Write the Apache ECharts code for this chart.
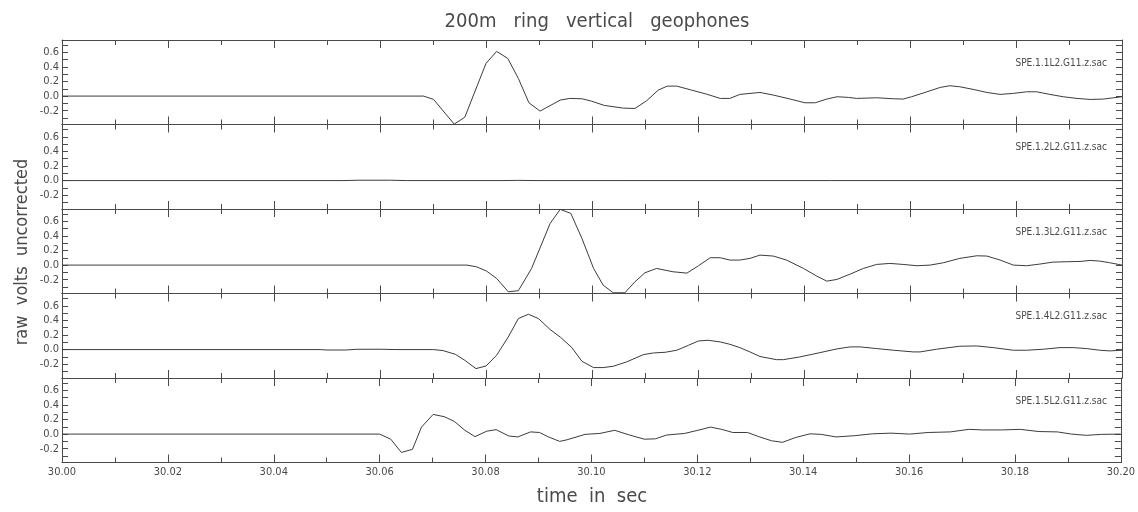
<!DOCTYPE html>
<html>
<head>
<meta charset="utf-8">
<script src="https://cdn.jsdelivr.net/npm/echarts@6/dist/echarts.min.js"></script>
<style>
  html, body { margin: 0; padding: 0; background: #fff; }
  #chart { width: 1138px; height: 512px; }
</style>
</head>
<body>
<div id="chart"></div>
<script>
// trace names, one per panel
const traceNames = ['SPE.1.1L2.G11.z.sac', 'SPE.1.2L2.G11.z.sac', 'SPE.1.3L2.G11.z.sac', 'SPE.1.4L2.G11.z.sac', 'SPE.1.5L2.G11.z.sac']

// (time in sec, raw volts)
const time1 = [30.0, 30.0682, 30.0701, 30.074, 30.076, 30.08, 30.082, 30.0841, 30.0861, 30.0881, 30.0902, 30.094, 30.0958, 30.0981, 30.0999, 30.1023, 30.1059, 30.1081, 30.1103, 30.1125, 30.1142, 30.116, 30.1188, 30.1216, 30.1242, 30.126, 30.1279, 30.1317, 30.1342, 30.1374, 30.1402, 30.1421, 30.1443, 30.1462, 30.1484, 30.1499, 30.1537, 30.1569, 30.1587, 30.1603, 30.1632, 30.1657, 30.1675, 30.1694, 30.1719, 30.1745, 30.177, 30.1795, 30.182, 30.1839, 30.1864, 30.1889, 30.1915, 30.194, 30.1965, 30.1984, 30.2]
const volts1 = [0, 0, -0.045, -0.385, -0.29, 0.449, 0.613, 0.518, 0.243, -0.092, -0.206, -0.055, -0.032, -0.037, -0.069, -0.128, -0.165, -0.17, -0.064, 0.082, 0.137, 0.137, 0.082, 0.027, -0.032, -0.032, 0.023, 0.05, 0.014, -0.041, -0.092, -0.092, -0.041, -0.009, -0.018, -0.032, -0.023, -0.037, -0.041, -0.009, 0.059, 0.119, 0.142, 0.128, 0.092, 0.05, 0.023, 0.037, 0.059, 0.059, 0.023, -0.009, -0.032, -0.046, -0.041, -0.023, -0.009]

const time2 = [30.0, 30.053, 30.056, 30.062, 30.065, 30.083, 30.086, 30.09, 30.2]
const volts2 = [0, 0, 0.005, 0.005, 0, 0, 0.003, 0, 0]

const time3 = [30.0, 30.0764, 30.0782, 30.0801, 30.082, 30.0842, 30.0861, 30.0886, 30.0921, 30.094, 30.096, 30.0981, 30.1003, 30.1021, 30.104, 30.1062, 30.1081, 30.11, 30.1122, 30.1153, 30.1179, 30.1201, 30.1223, 30.1242, 30.126, 30.1279, 30.1298, 30.1317, 30.1342, 30.1367, 30.1399, 30.1424, 30.1443, 30.1462, 30.1487, 30.1512, 30.1537, 30.1562, 30.1587, 30.1613, 30.1638, 30.1663, 30.1694, 30.1726, 30.1745, 30.177, 30.1795, 30.182, 30.1845, 30.187, 30.1896, 30.1921, 30.194, 30.1958, 30.1977, 30.2]
const volts3 = [0, 0, -0.023, -0.082, -0.183, -0.366, -0.352, -0.046, 0.572, 0.765, 0.71, 0.366, -0.046, -0.275, -0.38, -0.38, -0.229, -0.105, -0.046, -0.092, -0.11, -0.009, 0.101, 0.101, 0.069, 0.069, 0.092, 0.137, 0.124, 0.069, -0.046, -0.151, -0.22, -0.197, -0.124, -0.046, 0.009, 0.023, 0.009, -0.009, 0, 0.032, 0.092, 0.128, 0.124, 0.069, 0, -0.009, 0.014, 0.041, 0.046, 0.05, 0.064, 0.055, 0.032, 0]

const time4 = [30.0, 30.0487, 30.05, 30.0535, 30.0555, 30.06, 30.0632, 30.0701, 30.0719, 30.0742, 30.076, 30.0781, 30.08, 30.082, 30.0842, 30.0861, 30.088, 30.0899, 30.0921, 30.094, 30.0962, 30.0981, 30.1003, 30.1021, 30.104, 30.1065, 30.1097, 30.1116, 30.1138, 30.116, 30.1182, 30.1201, 30.1219, 30.1242, 30.126, 30.1279, 30.1298, 30.1317, 30.1348, 30.1361, 30.1392, 30.143, 30.1462, 30.1487, 30.1506, 30.1537, 30.1569, 30.1606, 30.1619, 30.165, 30.1694, 30.1726, 30.1757, 30.1795, 30.182, 30.1852, 30.1883, 30.1908, 30.1933, 30.1958, 30.1977, 30.2]
const volts4 = [0, 0, -0.006, -0.006, 0.004, 0.005, 0, 0, -0.014, -0.064, -0.147, -0.261, -0.225, -0.078, 0.173, 0.426, 0.485, 0.426, 0.275, 0.173, 0.027, -0.161, -0.247, -0.247, -0.229, -0.17, -0.069, -0.046, -0.037, -0.009, 0.059, 0.119, 0.128, 0.105, 0.073, 0.027, -0.032, -0.095, -0.138, -0.138, -0.101, -0.042, 0.009, 0.037, 0.037, 0.014, -0.009, -0.032, -0.032, 0.005, 0.046, 0.05, 0.027, -0.009, -0.009, 0.005, 0.027, 0.027, 0.014, -0.009, -0.018, -0.009]

const time5 = [30.0, 30.06, 30.0621, 30.0641, 30.0662, 30.0679, 30.0701, 30.0722, 30.0741, 30.0761, 30.078, 30.0802, 30.082, 30.0844, 30.0861, 30.0885, 30.0902, 30.0919, 30.094, 30.0954, 30.0988, 30.1016, 30.1044, 30.1072, 30.11, 30.1121, 30.1142, 30.1176, 30.1201, 30.1225, 30.1246, 30.1267, 30.1295, 30.1316, 30.134, 30.1361, 30.1385, 30.1413, 30.1434, 30.1462, 30.1497, 30.1531, 30.1566, 30.1601, 30.1636, 30.1678, 30.1713, 30.174, 30.1775, 30.181, 30.1845, 30.188, 30.1907, 30.1935, 30.1963, 30.2]
const volts5 = [0, 0, -0.07, -0.252, -0.209, 0.096, 0.27, 0.239, 0.174, 0.052, -0.035, 0.039, 0.061, -0.026, -0.039, 0.03, 0.022, -0.039, -0.1, -0.078, -0.004, 0.009, 0.052, -0.013, -0.07, -0.065, -0.013, 0.009, 0.052, 0.096, 0.065, 0.022, 0.022, -0.035, -0.091, -0.113, -0.048, 0.004, -0.004, -0.039, -0.022, 0.004, 0.013, 0, 0.022, 0.03, 0.065, 0.057, 0.057, 0.065, 0.035, 0.03, 0, -0.017, -0.004, 0]

const yTickValues = [-0.3, -0.2, -0.1, 0, 0.1, 0.2, 0.3, 0.4, 0.5, 0.6, 0.7]
const yLabelValues = [-0.2, 0, 0.2, 0.4, 0.6]

const times = [time1, time2, time3, time4, time5]
const volts = [volts1, volts2, volts3, volts4, volts5]

const ink = '#4a4a4a'
const font = "'DejaVu Sans Condensed', 'Liberation Sans Narrow', sans-serif"
const panelTop = 40
const panelH = 84.5

const chart = echarts.init(document.getElementById('chart'))

const grid = []
const xAxis = []
const yAxis = []
const series = []
const title = [{
  text: '200m   ring   vertical   geophones',
  left: 592,
  textAlign: 'center',
  top: 7,
  textStyle: { fontFamily: font, fontSize: 20, fontWeight: 'normal', color: ink }
}]

for (let i = 0; i < 5; i++) {
  grid.push({ left: 62, right: 16, top: panelTop + i * panelH, height: panelH })

  // bottom and top time axes, ticks inside
  for (const pos of ['bottom', 'top']) {
    xAxis.push({
      gridIndex: i,
      type: 'value',
      position: pos,
      min: 30,
      max: 30.2,
      interval: 0.02,
      axisLine: { show: true, onZero: false, lineStyle: { color: ink, width: 1 } },
      axisTick: { show: true, inside: true, length: 8, lineStyle: { color: ink } },
      minorTick: { show: true, splitNumber: 2, length: 5, lineStyle: { color: ink } },
      splitLine: { show: false },
      axisLabel: {
        show: i === 4 && pos === 'bottom',
        margin: 4,
        color: ink,
        fontFamily: font,
        fontSize: 11,
        formatter: (v) => v.toFixed(2)
      }
    })
  }

  // left and right volt axes
  for (const pos of ['left', 'right']) {
    yAxis.push({
      gridIndex: i,
      type: 'value',
      position: pos,
      min: -0.39,
      max: 0.77,
      axisLine: { show: true, onZero: false, lineStyle: { color: ink, width: 1 } },
      axisTick: { show: true, inside: true, length: 6, customValues: yTickValues, lineStyle: { color: ink } },
      splitLine: { show: false },
      axisLabel: {
        show: pos === 'left',
        customValues: yLabelValues,
        margin: 3,
        color: ink,
        fontFamily: font,
        fontSize: 11,
        formatter: (v) => v.toFixed(1)
      }
    })
  }

  series.push({
    type: 'line',
    xAxisIndex: i * 2,
    yAxisIndex: i * 2,
    data: times[i].map((t, k) => [t, volts[i][k]]),
    showSymbol: false,
    lineStyle: { color: '#3c3c3c', width: 1 },
    clip: true
  })

  title.push({
    text: traceNames[i],
    right: 26,
    top: panelTop + i * panelH + 13,
    textStyle: { fontFamily: font, fontSize: 10, fontWeight: 'normal', color: ink }
  })
}

chart.setOption({
  animation: false,
  backgroundColor: '#fff',
  title: title,
  grid: grid,
  xAxis: xAxis,
  yAxis: yAxis,
  series: series,
  graphic: [
    {
      type: 'text',
      x: 22,
      y: 252,
      rotation: Math.PI / 2,
      style: {
        text: 'raw  volts  uncorrected',
        fill: ink,
        font: "18px 'DejaVu Sans Condensed', sans-serif",
        align: 'center',
        verticalAlign: 'middle'
      }
    },
    {
      type: 'text',
      x: 592,
      y: 497,
      style: {
        text: 'time  in  sec',
        fill: ink,
        font: "20px 'DejaVu Sans Condensed', sans-serif",
        align: 'center',
        verticalAlign: 'middle'
      }
    }
  ]
})
</script>
</body>
</html>
